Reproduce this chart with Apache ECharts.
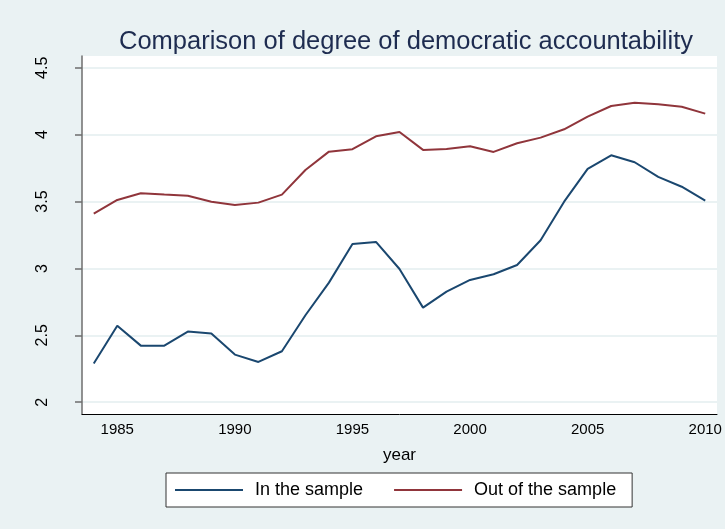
<!DOCTYPE html>
<html>
<head>
<meta charset="utf-8">
<script src="https://cdn.jsdelivr.net/npm/echarts@6/dist/echarts.min.js"></script>
<style>
  html, body { margin: 0; padding: 0; background: #eaf2f3; }
  #chart { width: 725px; height: 529px; }
</style>
</head>
<body>
<div id="chart"></div>
<script>
// years on the x axis
const years = [1984, 1985, 1986, 1987, 1988, 1989, 1990, 1991, 1992, 1993, 1994, 1995, 1996,
  1997, 1998, 1999, 2000, 2001, 2002, 2003, 2004, 2005, 2006, 2007, 2008, 2009, 2010];

// in the sample
const inSample = [2.29, 2.572, 2.423, 2.423, 2.528, 2.513, 2.356, 2.301, 2.381, 2.65, 2.894, 3.183, 3.198,
  2.996, 2.707, 2.827, 2.914, 2.957, 3.026, 3.211, 3.499, 3.744, 3.846, 3.794, 3.684, 3.611, 3.507];

// out of the sample
const outSample = [3.41, 3.512, 3.562, 3.552, 3.544, 3.499, 3.475, 3.492, 3.552, 3.736, 3.873, 3.891, 3.988,
  4.02, 3.886, 3.893, 3.913, 3.871, 3.936, 3.978, 4.04, 4.135, 4.214, 4.239, 4.227, 4.209, 4.157];

const yTicks = [2, 2.5, 3, 3.5, 4, 4.5];

const font = "'Liberation Sans', Arial, sans-serif";

let myChart = echarts.init(document.getElementById("chart"));
myChart.setOption({
  backgroundColor: "#eaf2f3",
  textStyle: { fontFamily: font },
  title: {
    text: "Comparison of degree of democratic accountability",
    left: 401,
    textAlign: "center",
    top: 24,
    textStyle: { fontFamily: font, fontSize: 25.5, fontWeight: "normal", color: "#1e2c50" },
  },
  grid: {
    left: 82,
    right: 8,
    top: 56,
    bottom: 115,
    show: true,
    backgroundColor: "#ffffff",
    borderWidth: 0,
  },
  legend: {
    data: ["In the sample", "Out of the sample"],
    left: 166,
    top: 473,
    backgroundColor: "#ffffff",
    borderColor: "#333333",
    borderWidth: 1,
    padding: [8, 16, 8, 9],
    itemGap: 31,
    itemWidth: 68,
    itemHeight: 2,
    icon: "rect",
    textStyle: { fontFamily: font, fontSize: 18, color: "#000", padding: [0, 0, 0, 7] },
  },
  xAxis: {
    type: "category",
    data: years,
    boundaryGap: true,
    name: "year",
    nameLocation: "middle",
    nameGap: 33,
    nameTextStyle: { fontFamily: font, fontSize: 17, color: "#000" },
    axisLine: { lineStyle: { color: "#000", width: 1 } },
    axisTick: {
      alignWithLabel: true,
      length: 6,
      interval: (i, v) => Number(v) % 5 === 0,
      lineStyle: { color: "#000" },
    },
    axisLabel: {
      interval: (i, v) => Number(v) % 5 === 0,
      fontSize: 15,
      color: "#000",
      margin: 8,
    },
    splitLine: { show: false },
  },
  yAxis: {
    type: "value",
    min: 1.912,
    max: 4.588,
    axisLine: { show: true, lineStyle: { color: "#6e6e6e", width: 1.5 } },
    axisTick: { show: true, length: 7, customValues: yTicks, lineStyle: { color: "#6e6e6e", width: 1.5 } },
    axisLabel: {
      customValues: yTicks,
      rotate: 90,
      fontSize: 16,
      color: "#000",
      margin: 31,
    },
    splitLine: { show: true, customValues: yTicks, lineStyle: { color: "#eaf2f3", width: 2 } },
  },
  series: [
    {
      name: "In the sample",
      type: "line",
      data: inSample,
      symbol: "none",
      lineStyle: { color: "#1a476f", width: 2 },
      itemStyle: { color: "#1a476f" },
    },
    {
      name: "Out of the sample",
      type: "line",
      data: outSample,
      symbol: "none",
      lineStyle: { color: "#90353b", width: 2 },
      itemStyle: { color: "#90353b" },
    },
  ],
});
window.addEventListener("resize", () => {
  myChart.resize();
});
</script>
</body>
</html>
